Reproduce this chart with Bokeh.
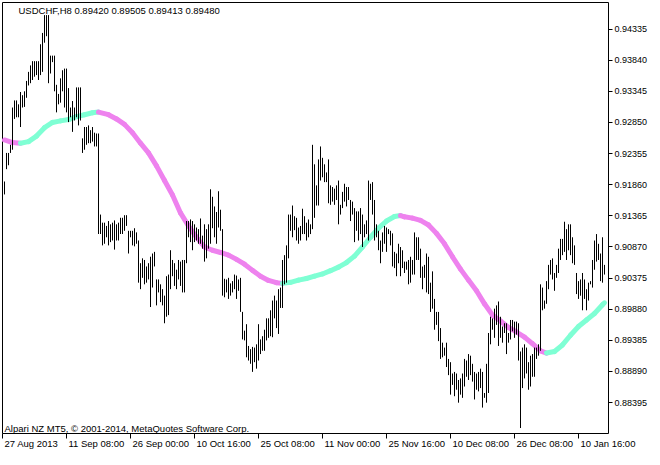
from bokeh.plotting import figure
from bokeh.models import Range1d, FixedTicker, Label
from bokeh.core.properties import value
from bokeh.embed import file_html
from bokeh.resources import INLINE

# ---------------- data ----------------
highs = [
    0.91911, 0.92365, 0.92365, 0.92494, 0.93087, 0.93200, 0.93200, 0.93138, 0.93334, 0.93283,
    0.93345, 0.93510, 0.93654, 0.93757, 0.93824, 0.93824, 0.93824, 0.93824, 0.94093, 0.94273,
    0.94557, 0.94557, 0.94557, 0.93912, 0.93912, 0.93912, 0.93448, 0.93303, 0.93551, 0.93680,
    0.93706, 0.93706, 0.93396, 0.93087, 0.93190, 0.93087, 0.93407, 0.93407, 0.93407, 0.92597,
    0.92777, 0.92777, 0.92803, 0.92727, 0.92777, 0.92687, 0.92674, 0.92674, 0.91385, 0.91256,
    0.91256, 0.91205, 0.91282, 0.91230, 0.91256, 0.91292, 0.91230, 0.91256, 0.91334, 0.91334,
    0.91375, 0.91375, 0.91127, 0.91127, 0.91127, 0.91168, 0.91102, 0.90973, 0.90612, 0.90689,
    0.90663, 0.90560, 0.90612, 0.90715, 0.90766, 0.90792, 0.90354, 0.90354, 0.90276, 0.90199,
    0.90096, 0.90405, 0.90431, 0.90818, 0.90663, 0.90612, 0.90508, 0.90663, 0.90637, 0.90663,
    0.90663, 0.91282, 0.91282, 0.91308, 0.91282, 0.91230, 0.91179, 0.91153, 0.91323, 0.91050,
    0.91230, 0.91153, 0.91230, 0.91787, 0.91668, 0.91514, 0.91426, 0.91756, 0.91462, 0.91153,
    0.90364, 0.90353, 0.90379, 0.90291, 0.90327, 0.90431, 0.90415, 0.90353, 0.90379, 0.89838,
    0.89539, 0.89642, 0.89296, 0.89245, 0.89281, 0.89270, 0.89322, 0.89642, 0.89400, 0.89451,
    0.89554, 0.89735, 0.89735, 0.89863, 0.90018, 0.90096, 0.90018, 0.90199, 0.90224, 0.90663,
    0.90740, 0.90895, 0.91385, 0.91385, 0.91529, 0.91359, 0.91333, 0.91179, 0.91204, 0.91478,
    0.91359, 0.91256, 0.91307, 0.91230, 0.92494, 0.92184, 0.91849, 0.92262, 0.92468, 0.92287,
    0.92184, 0.92055, 0.92262, 0.91849, 0.91823, 0.91797, 0.91849, 0.91926, 0.91540, 0.91746,
    0.91875, 0.91823, 0.91823, 0.91617, 0.91591, 0.91488, 0.91436, 0.91436, 0.91488, 0.91385,
    0.91230, 0.91292, 0.91926, 0.91875, 0.91901, 0.91617, 0.91230, 0.91127, 0.90972, 0.91101,
    0.91204, 0.91179, 0.91153, 0.91127, 0.91086, 0.90792, 0.90766, 0.90921, 0.90869, 0.90817,
    0.90637, 0.90637, 0.90663, 0.90714, 0.90663, 0.91101, 0.91024, 0.91024, 0.90843, 0.90559,
    0.90585, 0.90766, 0.90714, 0.90302, 0.90482, 0.90044, 0.89837, 0.89837, 0.89580, 0.89348,
    0.89270, 0.89348, 0.89090, 0.89038, 0.88858, 0.88883, 0.88858, 0.88755, 0.88780, 0.88858,
    0.89090, 0.89064, 0.89167, 0.89141, 0.89012, 0.88883, 0.88858, 0.88883, 0.88935, 0.88883,
    0.88548, 0.89012, 0.89502, 0.89760, 0.89734, 0.89889, 0.89941, 0.90003, 0.89760, 0.89605,
    0.89657, 0.89657, 0.89502, 0.89709, 0.89709, 0.89683, 0.89683, 0.89657, 0.89208, 0.89270,
    0.89322, 0.89270, 0.89038, 0.89141, 0.89167, 0.89270, 0.89270, 0.89322, 0.90276, 0.90224,
    0.90018, 0.90327, 0.90585, 0.90663, 0.90688, 0.90456, 0.90585, 0.90843, 0.90998, 0.90998,
    0.91271, 0.91153, 0.91230, 0.91230, 0.91024, 0.90895, 0.90456, 0.90327, 0.90353, 0.90456,
    0.90353, 0.90198, 0.90302, 0.90327, 0.90663, 0.90972, 0.91075, 0.90920, 0.90766, 0.91024,
    0.90585,
]
lows = [
    0.91705, 0.92107, 0.92169, 0.92365, 0.92416, 0.92906, 0.92932, 0.92932, 0.92777, 0.93087,
    0.93097, 0.93242, 0.93438, 0.93474, 0.93525, 0.93577, 0.93603, 0.93525, 0.93603, 0.93654,
    0.94118, 0.94221, 0.93474, 0.93628, 0.93809, 0.93345, 0.93010, 0.93138, 0.93164, 0.93345,
    0.93087, 0.93010, 0.92855, 0.92932, 0.92700, 0.92881, 0.92932, 0.92803, 0.92881, 0.92365,
    0.92416, 0.92494, 0.92520, 0.92520, 0.92545, 0.92468, 0.92468, 0.91076, 0.91076, 0.90895,
    0.90921, 0.91024, 0.90895, 0.90947, 0.90973, 0.90828, 0.90973, 0.90973, 0.91076, 0.91076,
    0.91127, 0.91205, 0.90766, 0.91024, 0.90895, 0.90880, 0.90921, 0.90302, 0.90199, 0.90379,
    0.90276, 0.90302, 0.90354, 0.89915, 0.90225, 0.90560, 0.89941, 0.90147, 0.89993, 0.89941,
    0.89657, 0.89761, 0.89786, 0.90199, 0.90405, 0.90251, 0.90199, 0.90354, 0.90251, 0.90147,
    0.90147, 0.90612, 0.91024, 0.90947, 0.90818, 0.90947, 0.90973, 0.90921, 0.90921, 0.90843,
    0.90637, 0.90689, 0.90843, 0.90921, 0.91168, 0.91024, 0.90921, 0.91179, 0.91127, 0.90096,
    0.90070, 0.90147, 0.90044, 0.90096, 0.90147, 0.90199, 0.90044, 0.90173, 0.89838, 0.89400,
    0.89384, 0.89116, 0.89064, 0.89013, 0.88884, 0.89038, 0.88935, 0.89064, 0.89167, 0.89219,
    0.89219, 0.89384, 0.89425, 0.89451, 0.89435, 0.89735, 0.89580, 0.89487, 0.89900, 0.89900,
    0.90276, 0.90302, 0.90689, 0.91127, 0.91024, 0.91137, 0.90972, 0.90921, 0.90972, 0.91075,
    0.91075, 0.90972, 0.91024, 0.91075, 0.91153, 0.91333, 0.91529, 0.91529, 0.91926, 0.91978,
    0.91901, 0.91901, 0.91565, 0.91540, 0.91591, 0.91540, 0.91617, 0.91230, 0.91385, 0.91488,
    0.91591, 0.91514, 0.91617, 0.91282, 0.91385, 0.90947, 0.91127, 0.90972, 0.91075, 0.90869,
    0.91024, 0.91075, 0.90972, 0.91617, 0.91385, 0.90972, 0.91024, 0.90818, 0.90611, 0.90792,
    0.90921, 0.90792, 0.91075, 0.90895, 0.90560, 0.90534, 0.90405, 0.90611, 0.90405, 0.90534,
    0.90456, 0.90508, 0.90276, 0.90302, 0.90431, 0.90431, 0.90663, 0.90663, 0.90379, 0.90198,
    0.90379, 0.90147, 0.90121, 0.89837, 0.89889, 0.89554, 0.89631, 0.89373, 0.89090, 0.89115,
    0.89141, 0.88961, 0.88832, 0.88522, 0.88677, 0.88497, 0.88600, 0.88394, 0.88522, 0.88471,
    0.88651, 0.88806, 0.88755, 0.88832, 0.88729, 0.88445, 0.88600, 0.88574, 0.88626, 0.88316,
    0.88471, 0.88394, 0.88548, 0.89322, 0.89554, 0.89425, 0.89631, 0.89296, 0.89425, 0.89348,
    0.89502, 0.89167, 0.89348, 0.89399, 0.89528, 0.89425, 0.89476, 0.89064, 0.87991, 0.88626,
    0.88780, 0.88858, 0.88600, 0.88651, 0.88806, 0.88806, 0.89090, 0.89141, 0.89219, 0.89863,
    0.89889, 0.89966, 0.90198, 0.90431, 0.90353, 0.90173, 0.90379, 0.90456, 0.90663, 0.90740,
    0.90792, 0.90663, 0.90817, 0.90740, 0.90611, 0.90585, 0.90121, 0.90044, 0.90095, 0.89863,
    0.90044, 0.89863, 0.90018, 0.90276, 0.90224, 0.90508, 0.90637, 0.90663, 0.90327, 0.90302,
    0.90431,
]
bar_index = list(range(len(highs)))

ma_index = [0, 4, 8, 12, 16, 20, 24, 28, 32, 36, 40, 44, 47, 52, 56, 60, 64, 68, 72, 76,
            80, 84, 88, 92, 96, 100, 104, 108, 112, 116, 120, 124, 128, 132, 136, 139, 143,
            147, 151, 155, 159, 163, 167, 171, 175, 179, 183, 187, 191, 195, 198, 200, 204,
            208, 212, 216, 220, 224, 228, 232, 236, 240, 244, 248, 252, 256, 260, 264, 268,
            271, 275, 279, 283, 287, 291, 295, 299, 300]
ma_value = [0.92571, 0.92530, 0.92520, 0.92545, 0.92633, 0.92767, 0.92850, 0.92875, 0.92896,
            0.92942, 0.92973, 0.93004, 0.93015, 0.92973, 0.92906, 0.92819, 0.92685, 0.92520,
            0.92365, 0.92159, 0.91927, 0.91695, 0.91411, 0.91205, 0.91024, 0.90869, 0.90818,
            0.90782, 0.90740, 0.90673, 0.90596, 0.90498, 0.90405, 0.90338, 0.90302, 0.90291,
            0.90307, 0.90343, 0.90369, 0.90405, 0.90441, 0.90493, 0.90549, 0.90622, 0.90725,
            0.90869, 0.91024, 0.91168, 0.91282, 0.91354, 0.91369, 0.91349, 0.91328, 0.91292,
            0.91220, 0.91086, 0.90920, 0.90714, 0.90518, 0.90343, 0.90173, 0.89966, 0.89786,
            0.89693, 0.89590, 0.89518, 0.89436, 0.89332, 0.89219, 0.89183, 0.89208, 0.89312,
            0.89466, 0.89605, 0.89709, 0.89812, 0.89951, 0.89982]

price_ticks = [0.88395, 0.88890, 0.89385, 0.89880, 0.90375, 0.90870, 0.91365,
               0.91860, 0.92355, 0.92850, 0.93345, 0.93840, 0.94335]
price_labels = ["0.88395", "0.88890", "0.89385", "0.89880", "0.90375", "0.90870", "0.91365",
                "0.91860", "0.92355", "0.92850", "0.93345", "0.93840", "0.94335"]
time_ticks = [-1, 31, 63, 95, 127, 159, 191, 223, 255, 287]
time_labels = ["27 Aug 2013", "11 Sep 08:00", "26 Sep 00:00", "10 Oct 16:00", "25 Oct 08:00",
               "11 Nov 00:00", "25 Nov 16:00", "10 Dec 08:00", "26 Dec 08:00", "10 Jan 16:00"]
title_text = "USDCHF,H8  0.89420 0.89505 0.89413 0.89480"
footer_text = "Alpari NZ MT5, \u00a9 2001-2014, MetaQuotes Software Corp."

# ---------------- geometry ----------------
FRAME_W, FRAME_H = 652, 449      # pixels (axes drawn inside the frame)
BOX_H = 431                      # price box height in pixels
X_LEFT, X_RIGHT = -1.0, 302.0    # bar slots of the left and right borders
Y_TOP, Y_BOT = 0.94757, 0.87904  # prices at the top border and at the time axis
PX_X = 0.5                       # bar slots per pixel (2 px per bar)
PX_Y = (Y_TOP - Y_BOT) / BOX_H   # price per pixel

x_start = X_LEFT - 2 * PX_X
x_end = x_start + FRAME_W * PX_X
y_end = Y_TOP + 2 * PX_Y
y_start = y_end - FRAME_H * PX_Y

FONT = "Liberation Sans"
FS = "9.5px"

p = figure(frame_width=FRAME_W, frame_height=FRAME_H, output_backend="svg",
           toolbar_location=None,
           x_range=Range1d(x_start, x_end), y_range=Range1d(y_start, y_end),
           y_axis_location="right", x_axis_location="below",
           min_border_left=0, min_border_top=0, min_border_right=0, min_border_bottom=0)
p.background_fill_color = "white"
p.border_fill_color = "white"
p.outline_line_color = None
p.grid.visible = False

# price axis: its line is the right border of the box
ya = p.yaxis[0]
ya.fixed_location = X_RIGHT
ya.bounds = (Y_BOT, Y_TOP)
ya.ticker = FixedTicker(ticks=price_ticks)
ya.major_label_overrides = {t: s for t, s in zip(price_ticks, price_labels)}
ya.major_tick_out = 4
ya.major_tick_in = 0
ya.minor_tick_out = 0
ya.minor_tick_in = 0
ya.major_label_standoff = 2
ya.axis_line_color = "black"
ya.major_tick_line_color = "black"
ya.major_label_text_font = FONT
ya.major_label_text_font_size = "9px"
ya.major_label_text_color = "black"

# time axis: its line is the bottom border of the box
xa = p.xaxis[0]
xa.fixed_location = Y_BOT
xa.bounds = (X_LEFT, X_RIGHT)
xa.ticker = FixedTicker(ticks=time_ticks)
xa.major_tick_out = 5
xa.major_tick_in = 0
xa.minor_tick_out = 0
xa.minor_tick_in = 0
xa.axis_line_color = "black"
xa.major_tick_line_color = "black"
xa.major_label_text_color = None
xa.major_label_text_font_size = "1px"

# top and left borders of the box
p.segment(x0=[X_LEFT, X_LEFT], y0=[Y_TOP, Y_TOP], x1=[X_RIGHT, X_LEFT], y1=[Y_TOP, Y_BOT],
          line_color="black", line_width=1)

# moving average, coloured by direction
ma_colors = ["#7FFFD4" if b >= a else "#EE82EE" for a, b in zip(ma_value[:-1], ma_value[1:])]
p.segment(x0=ma_index[:-1], y0=ma_value[:-1], x1=ma_index[1:], y1=ma_value[1:],
          line_color=ma_colors, line_width=5, line_cap="round")

# price bars (high-low)
p.segment(x0=bar_index, y0=lows, x1=bar_index, y1=highs, line_color="black", line_width=1)

# time labels, left-aligned at their ticks
p.text(x=time_ticks, y=[Y_BOT - 4 * PX_Y] * len(time_ticks), text=time_labels,
       x_offset=2, text_align="left", text_baseline="top",
       text_font=value(FONT), text_font_size=value(FS), text_color="black")

p.add_layout(Label(x=X_LEFT, y=Y_TOP, text=title_text, x_offset=16, y_offset=-2,
                   text_align="left", text_baseline="top",
                   text_font=FONT, text_font_size=FS, text_color="black"))
p.add_layout(Label(x=X_LEFT, y=Y_BOT, text=footer_text, x_offset=2, y_offset=5,
                   text_align="left", text_baseline="alphabetic",
                   text_font=FONT, text_font_size=FS, text_color="black"))

open("out.html", "w").write(file_html(p, INLINE))
